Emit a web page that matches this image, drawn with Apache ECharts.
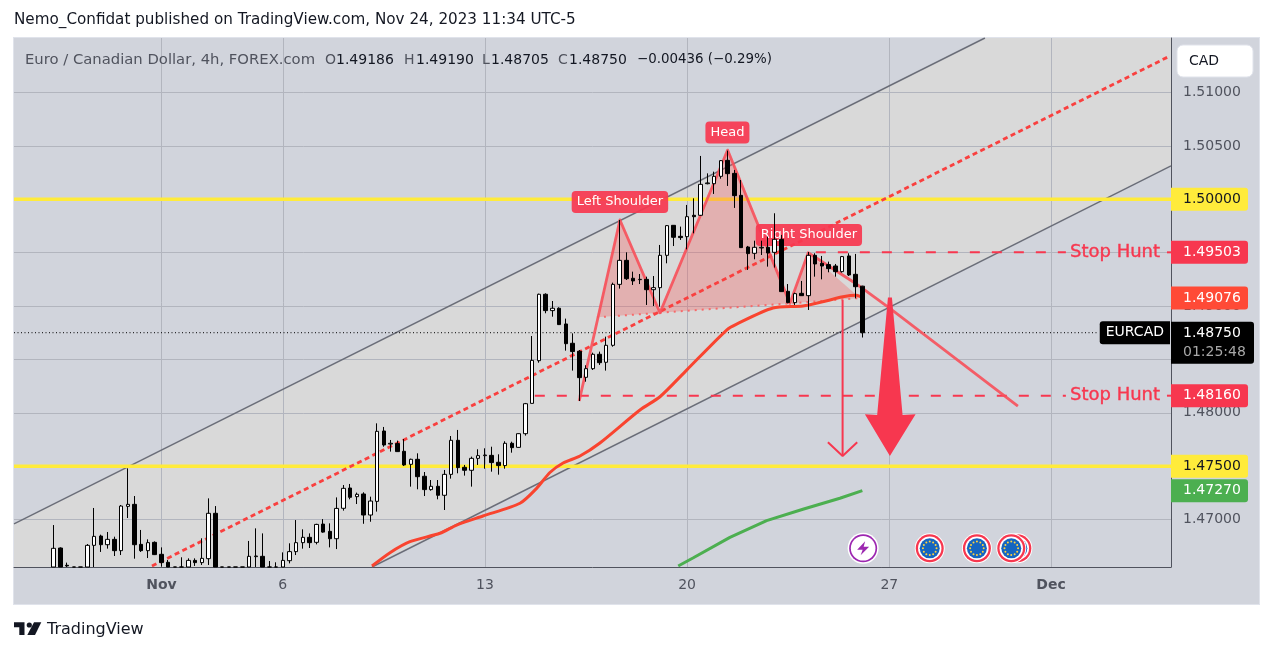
<!DOCTYPE html>
<html><head><meta charset="utf-8">
<style>
html,body{margin:0;padding:0;background:#fff;width:1273px;height:653px;overflow:hidden}
#frame{position:absolute;left:13px;top:37px;width:1245px;height:566px;background:#d1d4dc;border:1px solid #e0e3eb}
#c{position:absolute;left:0;top:0;width:1273px;height:653px}
</style>
<script src="https://cdn.jsdelivr.net/npm/echarts@6/dist/echarts.min.js"></script>
</head><body><div id="frame"></div><div id="c"></div>
<script>
const FONT = '"DejaVu Sans", sans-serif';
const firstBar = 6;
const opens = [
1.46433,1.46733,1.46571,1.46380,1.46470,1.46464,1.46758,1.46845,1.46764,1.46814,
1.46708,1.47123,1.47142,1.46767,1.46708,1.46786,1.46674,1.46599,1.46527,1.46480,
1.46527,1.46617,1.46596,1.46633,1.47058,1.46496,1.46440,1.46470,1.46490,1.46527,
1.46652,1.46655,1.46527,1.46500,1.46527,1.46614,1.46699,1.46783,1.46833,1.46786,
1.46957,1.46889,1.46820,1.47105,1.47295,1.47214,1.47239,1.47042,1.47170,1.47829,
1.47707,1.47711,1.47639,1.47517,1.47564,1.47405,1.47280,1.47311,1.47227,1.47423,
1.47742,1.47489,1.47461,1.47573,1.47598,1.47601,1.47536,1.47505,1.47714,1.47676,
1.47804,1.48088,1.48488,1.49110,1.48957,1.48979,1.48832,1.48651,1.48576,1.48332,
1.48413,1.48548,1.48473,1.48632,1.49203,1.49428,1.49260,1.49247,1.49250,1.49153,
1.49172,1.49475,1.49756,1.49653,1.49650,1.49850,1.49850,1.50146,1.50146,1.50215,
1.50365,1.50243,1.50037,1.49553,1.49494,1.49544,1.49550,1.49503,1.49625,1.49138,
1.49032,1.49119,1.49097,1.49475,1.49400,1.49388,1.49375,1.49322,1.49469,1.49297,1.49186];
const closes = [
1.46730,1.46464,1.46565,1.46470,1.46540,1.46758,1.46842,1.46764,1.46814,1.46708,
1.47126,1.47142,1.46764,1.46708,1.46783,1.46671,1.46596,1.46527,1.46480,1.46530,
1.46617,1.46596,1.46636,1.47058,1.46496,1.46440,1.46470,1.46490,1.46527,1.46655,
1.46658,1.46527,1.46500,1.46530,1.46617,1.46699,1.46783,1.46833,1.46783,1.46954,
1.46882,1.46820,1.47104,1.47292,1.47208,1.47236,1.47042,1.47173,1.47826,1.47698,
1.47714,1.47636,1.47511,1.47564,1.47401,1.47280,1.47311,1.47227,1.47423,1.47742,
1.47486,1.47461,1.47573,1.47598,1.47604,1.47533,1.47505,1.47714,1.47673,1.47804,
1.48085,1.48491,1.49110,1.48957,1.48979,1.48826,1.48647,1.48573,1.48329,1.48413,
1.48548,1.48469,1.48632,1.49203,1.49428,1.49256,1.49235,1.49250,1.49153,1.49172,
1.49475,1.49753,1.49644,1.49641,1.49837,1.49837,1.50140,1.50153,1.50215,1.50362,
1.50240,1.50034,1.49547,1.49491,1.49550,1.49550,1.49497,1.49625,1.49135,1.49032,
1.49116,1.49097,1.49475,1.49394,1.49375,1.49350,1.49322,1.49463,1.49291,1.49181,1.48750];
const lows = [
1.46400,1.46430,1.46500,1.46350,1.46440,1.46440,1.46527,1.46696,1.46727,1.46658,
1.46667,1.47014,1.46633,1.46696,1.46639,1.46667,1.46558,1.46500,1.46450,1.46460,
1.46510,1.46565,1.46574,1.46574,1.46450,1.46410,1.46420,1.46450,1.46470,1.46510,
1.46540,1.46510,1.46470,1.46480,1.46510,1.46589,1.46667,1.46727,1.46733,1.46767,
1.46876,1.46739,1.46723,1.47083,1.47189,1.47145,1.46960,1.46979,1.47074,1.47682,
1.47636,1.47633,1.47501,1.47308,1.47283,1.47220,1.47270,1.47189,1.47089,1.47383,
1.47433,1.47411,1.47308,1.47511,1.47476,1.47448,1.47420,1.47476,1.47626,1.47673,
1.47786,1.48088,1.48469,1.48932,1.48900,1.48822,1.48582,1.48395,1.48110,1.48291,
1.48401,1.48448,1.48395,1.48619,1.49163,1.49244,1.49197,1.49206,1.49010,1.49000,
1.48994,1.49400,1.49562,1.49619,1.49531,1.49681,1.49844,1.50140,1.50050,1.50193,
1.50125,1.49919,1.49544,1.49338,1.49438,1.49478,1.49369,1.49360,1.49132,1.49025,
1.49010,1.49094,1.48963,1.49275,1.49250,1.49316,1.49275,1.49313,1.49281,1.49072,1.48705];
const highs = [
1.46948,1.46739,1.46596,1.46500,1.46555,1.46770,1.47108,1.46858,1.46883,1.46839,
1.47136,1.47479,1.47220,1.46902,1.46814,1.46795,1.46739,1.46621,1.46540,1.46646,
1.46636,1.46636,1.46824,1.47198,1.47126,1.46510,1.46500,1.46520,1.46545,1.46799,
1.46917,1.46870,1.46611,1.46599,1.46692,1.46777,1.46995,1.46908,1.46870,1.46960,
1.47004,1.46964,1.47207,1.47323,1.47333,1.47252,1.47255,1.47214,1.47901,1.47867,
1.47745,1.47739,1.47754,1.47570,1.47620,1.47445,1.47370,1.47370,1.47464,1.47782,
1.47839,1.47511,1.47589,1.47658,1.47667,1.47682,1.47611,1.47733,1.47729,1.47807,
1.48092,1.48719,1.49116,1.49119,1.49047,1.48988,1.48882,1.48744,1.48588,1.48445,
1.48563,1.48573,1.48713,1.49219,1.49806,1.49503,1.49322,1.49300,1.49275,1.49281,
1.49572,1.49759,1.49759,1.49744,1.49947,1.50009,1.50406,1.50243,1.50259,1.50368,
1.50456,1.50275,1.50181,1.49563,1.49612,1.49612,1.49650,1.49869,1.49666,1.49206,
1.49125,1.49235,1.49506,1.49494,1.49469,1.49416,1.49394,1.49469,1.49494,1.49488,1.49190];

const xMin = 0.12, xMax = 171.8, yMin = 1.46555, yMax = 1.51511;
const xTickBars = [22,40,70,100,130,154];
const xTickLabels = ['Nov','6','13','20','27','Dec'];
const yTicks = [1.47,1.475,1.48,1.485,1.49,1.495,1.50,1.505,1.51];

const channelUpper = [[0.12,1.46958],[144.19,1.51511]];
const channelLower = [[53.24,1.46555],[171.8,1.50312]];
const channelArea = [[0.12,1.46555],[0.12,1.46958],[144.19,1.51511],[171.8,1.51511],[171.8,1.50312],[53.24,1.46555]];
const channelMid = [[20.59,1.46564],[171.34,1.51333]];
const levelHigh = [[0.12,1.5],[171.8,1.5]];
const levelLow = [[0.12,1.475],[171.8,1.475]];
const lastPriceLine = [[0.12,1.4875],[160.9,1.4875]];
const redMA = [[53.24,1.46564],[55.91,1.46689],[58.87,1.46792],[63.33,1.46871],[65.8,1.46948],[69.7,1.47033],[75.2,1.47152],[77.67,1.47292],[79.64,1.4744],[81.6,1.47529],[84.1,1.47595],[87.06,1.47717],[93,1.48026],[95.97,1.4815],[99.93,1.484],[105.86,1.48775],[107.35,1.48831],[112.73,1.48981],[117.18,1.49],[120.74,1.4905],[123.12,1.49087],[125.15,1.491],[126,1.49076]];
const greenMA = [[98.68,1.46564],[100.86,1.46639],[106.35,1.46833],[111.8,1.46989],[117.18,1.47096],[122.67,1.47199],[126,1.4727]];
const patternLine = [[83.99,1.4811],[90.03,1.49806],[95.97,1.48937],[106.01,1.50461],[115.25,1.49025],[117.97,1.49499],[124.9,1.49216],[130.09,1.48977],[149.08,1.48063]];
const neckline = [[86.62,1.48894],[95.97,1.48937],[115.25,1.49025],[125.64,1.49075]];
const shoulderLeft = [[86.62,1.48894],[90.03,1.49806],[95.97,1.48937]];
const headShape = [[95.97,1.48937],[106.01,1.50461],[115.25,1.49025]];
const shoulderRight = [[115.25,1.49025],[117.97,1.49499],[125.64,1.49075]];
const stopHuntA1 = [[119.1,1.49503],[156.2,1.49503]];
const stopHuntA2 = [[171.2,1.49503],[171.8,1.49503]];
const stopHuntB1 = [[77.4,1.4816],[156.2,1.4816]];
const stopHuntB2 = [[171.2,1.4816],[171.8,1.4816]];
const thinArrow = [[123.07,1.49056],[123.07,1.47595]];
const thinArrowHead = [[120.89,1.47723],[123.07,1.47595],[125.24,1.47723]];
const bigArrow = [[129.8,1.4908],[130.39,1.4908],[131.97,1.47979],[133.9,1.47985],[130.09,1.47595],[126.38,1.47985],[128.2,1.47979]];
const boltEvents = [[126.12,1.4673]];
const euroEvents = [[136,1.4673],[143,1.4673],[149,1.4673],[148.1,1.4673]];
const patternLabels = [
  {value:[90.03,1.49974],text:'Left Shoulder'},
  {value:[105.98,1.50625],text:'Head'},
  {value:[118.07,1.49665],text:'Right Shoulder'}];
const stopLabels = [[163.5,1.49503],[163.5,1.4816]];
const stopText = 'Stop Hunt';
const priceBadges = [
  {p:1.5,t:'1.50000',bg:'#ffeb3b',fg:'#131722'},
  {p:1.49503,t:'1.49503',bg:'#f7374f',fg:'#fff'},
  {p:1.49076,t:'1.49076',bg:'#ff4a36',fg:'#fff'},
  {p:1.4816,t:'1.48160',bg:'#f7374f',fg:'#fff'},
  {p:1.475,t:'1.47500',bg:'#ffeb3b',fg:'#131722'},
  {p:1.4727,t:'1.47270',bg:'#4caf50',fg:'#fff'}];
const headerText = 'Nemo_Confidat published on TradingView.com, Nov 24, 2023 11:34 UTC-5';
const legendParts = [
  [25,'Euro / Canadian Dollar, 4h, FOREX.com','#50535e',14.8],
  [325,'O','#50535e',14],[336,'1.49186','#131722',14],
  [404,'H','#50535e',14],[416,'1.49190','#131722',14],
  [482,'L','#50535e',14],[491,'1.48705','#131722',14],
  [558,'C','#50535e',14],[569,'1.48750','#131722',14],
  [637,'\u22120.00436 (\u22120.29%)','#131722',13.4]];

const RED = '#f7374f', PINK = 'rgba(247,82,82,0.3)';
const clampLow = v => Math.max(v, yMin);
const candles = opens.map((o,i)=>[firstBar+i,clampLow(o),clampLow(closes[i]),clampLow(lows[i]),clampLow(highs[i])]);

function line(name,data,color,width,type,z,opts){
  return Object.assign({name,type:'line',data,showSymbol:false,symbol:'none',silent:true,z:z||3,clip:true,
    lineStyle:{color,width,type:type||'solid',cap:'butt'},animation:false},opts||{});
}
function polygon(name,pts,color,z){
  return {name,type:'custom',silent:true,z:z||2,clip:true,animation:false,coordinateSystem:'cartesian2d',
    data:[0],encode:{x:[],y:[]},
    renderItem:(p,api)=>({type:'polygon',shape:{points:pts.map(v=>api.coord(v))},style:{fill:color,stroke:null}})};
}
function ring(x,y,r,fill){return {type:'circle',shape:{cx:x,cy:y,r},style:{fill}};}
function renderEuro(p,api){
  const c=api.coord([api.value(0),api.value(1)]),cx=c[0],cy=c[1];
  const kids=[ring(cx,cy,15,'#fff'),ring(cx,cy,14,RED),ring(cx,cy,11.7,'#fff'),ring(cx,cy,10,'#1565c0')];
  for(let i=0;i<12;i++){const a=i*Math.PI/6;kids.push(ring(cx+6.8*Math.cos(a),cy+6.8*Math.sin(a),1,'#ffd23f'));}
  return {type:'group',children:kids};
}
function renderBolt(p,api){
  const c=api.coord([api.value(0),api.value(1)]),cx=c[0],cy=c[1];
  return {type:'group',children:[ring(cx,cy,15.5,'#fff'),ring(cx,cy,14,'#9c27b0'),ring(cx,cy,12.3,'#fff'),
    {type:'polygon',shape:{points:[[cx+2,cy-7],[cx-6,cy+1.5],[cx-0.5,cy+1.5],[cx-2.5,cy+7],[cx+6,cy-1.5],[cx+0.5,cy-1.5]]},style:{fill:'#9c27b0'}}]};
}

const graphics = [
  {type:'text',x:14,y:13,z:20,style:{text:headerText,fill:'#131722',font:'15.2px '+FONT}},
  {type:'text',x:47,y:622,z:20,style:{text:'TradingView',fill:'#131722',font:'16px '+FONT}},
  {type:'polygon',shape:{points:[[14,622.3],[24.5,622.3],[24.5,635],[19.3,635],[19.3,627.3],[14,627.3]]},style:{fill:'#131722'}},
  {type:'circle',shape:{cx:29.3,cy:625,r:2.6},style:{fill:'#131722'}},
  {type:'polygon',shape:{points:[[34,622.3],[41.3,622.3],[35,635],[27.3,635]]},style:{fill:'#131722'}},
  {type:'rect',shape:{x:1177,y:45,width:76,height:32,r:6},z:20,style:{fill:'#fff',stroke:'#e0e3eb',lineWidth:1}},
  {type:'text',x:1189,y:54,z:21,style:{text:'CAD',fill:'#131722',font:'14px '+FONT}}
].concat(legendParts.map(l=>({type:'text',x:l[0],y:53,z:20,style:{text:l[1],fill:l[2],font:l[3]+'px '+FONT}})));

const badgeLabel = {show:true,position:'right',distance:0,fontFamily:FONT,fontSize:14};
const badgeSeries = {
  name:'badges',type:'scatter',symbolSize:0,silent:true,z:12,clip:false,animation:false,itemStyle:{opacity:1},
  data:priceBadges.map(b=>({value:[xMax,b.p],
    label:Object.assign({},badgeLabel,{formatter:b.t,color:b.fg,backgroundColor:b.bg,width:64,padding:[2.5,1,2.5,12],lineHeight:18,borderRadius:[0,3,3,0]})}))
    .concat([
      {value:[xMax,1.4875],label:{show:true,position:'right',distance:0,offset:[0,10],
        formatter:'{a|1.48750}\n{b|01:25:48}',backgroundColor:'#000',padding:[2,7,2,12],borderRadius:[0,3,3,0],
        rich:{a:{color:'#fff',fontFamily:FONT,fontSize:14,lineHeight:19,width:64},
              b:{color:'#a8a8a8',fontFamily:FONT,fontSize:14,lineHeight:19,width:64}}}},
      {value:[xMax,1.4875],label:Object.assign({},badgeLabel,{position:'left',distance:1,formatter:'EURCAD',color:'#fff',backgroundColor:'#000',padding:[2.5,6,2.5,6],lineHeight:18,borderRadius:[3,0,0,3]})}
    ])
};

const option = {
  animation:false,
  graphic:{elements:graphics},
  grid:{left:14,top:38,width:1157,height:529,containLabel:false},
  xAxis:{type:'value',min:xMin,max:xMax,
    axisLine:{show:true,onZero:false,lineStyle:{color:'#50535e',width:1}},
    axisTick:{show:false,customValues:xTickBars},
    splitLine:{show:true,lineStyle:{color:'#b2b5be',width:1}},
    axisLabel:{customValues:xTickBars,margin:11,fontFamily:FONT,fontSize:14,color:'#50535e',
      formatter:v=>{const s=xTickLabels[xTickBars.indexOf(v)];return (s==='Nov'||s==='Dec')?'{b|'+s+'}':s;},
      rich:{b:{fontWeight:600,fontFamily:FONT,fontSize:14,color:'#50535e'}}}},
  yAxis:{type:'value',position:'right',min:yMin,max:yMax,
    axisLine:{show:true,onZero:false,lineStyle:{color:'#50535e',width:1}},
    axisTick:{show:false,customValues:yTicks},
    splitLine:{show:true,lineStyle:{color:'#b2b5be',width:1}},
    axisLabel:{customValues:yTicks,margin:12,fontFamily:FONT,fontSize:14,color:'#50535e',formatter:v=>v.toFixed(5)}},
  series:[
    polygon('channel',channelArea,'#d9d9d9',-1),
    line('channelUpper',channelUpper,'#6a6d78',1.4,'solid',2),
    line('channelLower',channelLower,'#6a6d78',1.4,'solid',2),
    line('level1.50',levelHigh,'#ffeb3b',3.5,'solid',2),
    line('level1.475',levelLow,'#ffeb3b',3.5,'solid',2),
    line('lastPrice',lastPriceLine,'#000',1,[1,2.5],2),
    polygon('leftShoulder',shoulderLeft,PINK,3),
    polygon('head',headShape,PINK,3),
    polygon('rightShoulder',shoulderRight,PINK,3),
    line('neckline',neckline,'#f76a6a',2,[2,5],4),
    line('channelMid',channelMid,'#f9403f',2.8,[5,3.5],4),
    line('stopA1',stopHuntA1,RED,2,[10,12],4),
    line('stopA2',stopHuntA2,RED,2,'solid',4),
    line('stopB1',stopHuntB1,RED,2,[10,12],4),
    line('stopB2',stopHuntB2,RED,2,'solid',4),
    line('pattern',patternLine,'#f7505a',3,'solid',4,{lineStyle:{color:'#f7505a',width:2.8,opacity:0.9,join:'round'}}),
    line('redMA',redMA,'#f9442f',3,'solid',5,{smooth:0.25}),
    line('greenMA',greenMA,'#4caf50',3,'solid',5),
    line('thinArrow',thinArrow,RED,2,'solid',5),
    line('thinArrowHead',thinArrowHead,RED,2,'solid',5),
    polygon('bigArrow',bigArrow,RED,5),
    {name:'patternLabels',type:'scatter',symbolSize:0,silent:true,z:6,animation:false,itemStyle:{opacity:1},
      data:patternLabels.map(l=>({value:l.value,label:{show:true,position:'inside',formatter:l.text,color:'#fff',
        backgroundColor:'rgba(247,55,79,0.92)',borderRadius:4,padding:[3,5,2,5],lineHeight:17,fontFamily:FONT,fontSize:13}}))},
    {name:'stopLabels',type:'scatter',symbolSize:0,silent:true,z:6,animation:false,itemStyle:{opacity:1},
      data:stopLabels.map(v=>({value:v,label:{show:true,position:'inside',formatter:stopText,color:RED,fontFamily:FONT,fontSize:18,textBorderColor:RED,textBorderWidth:0.4}}))},
    {name:'EURCAD',type:'candlestick',data:candles,encode:{x:0,y:[1,2,3,4]},barWidth:4,z:10,silent:true,animation:false,clip:true,
      itemStyle:{color:'#ffffff',color0:'#000000',borderColor:'#000000',borderColor0:'#000000',borderWidth:1}},
    {name:'bolt',type:'custom',data:boltEvents,renderItem:renderBolt,silent:true,z:11,clip:false,animation:false,encode:{x:0,y:1}},
    {name:'euro',type:'custom',data:euroEvents,renderItem:renderEuro,silent:true,z:11,clip:false,animation:false,encode:{x:0,y:1}},
    badgeSeries
  ]
};
const chart = echarts.init(document.getElementById('c'),null,{renderer:'canvas'});
chart.setOption(option);
</script></body></html>
